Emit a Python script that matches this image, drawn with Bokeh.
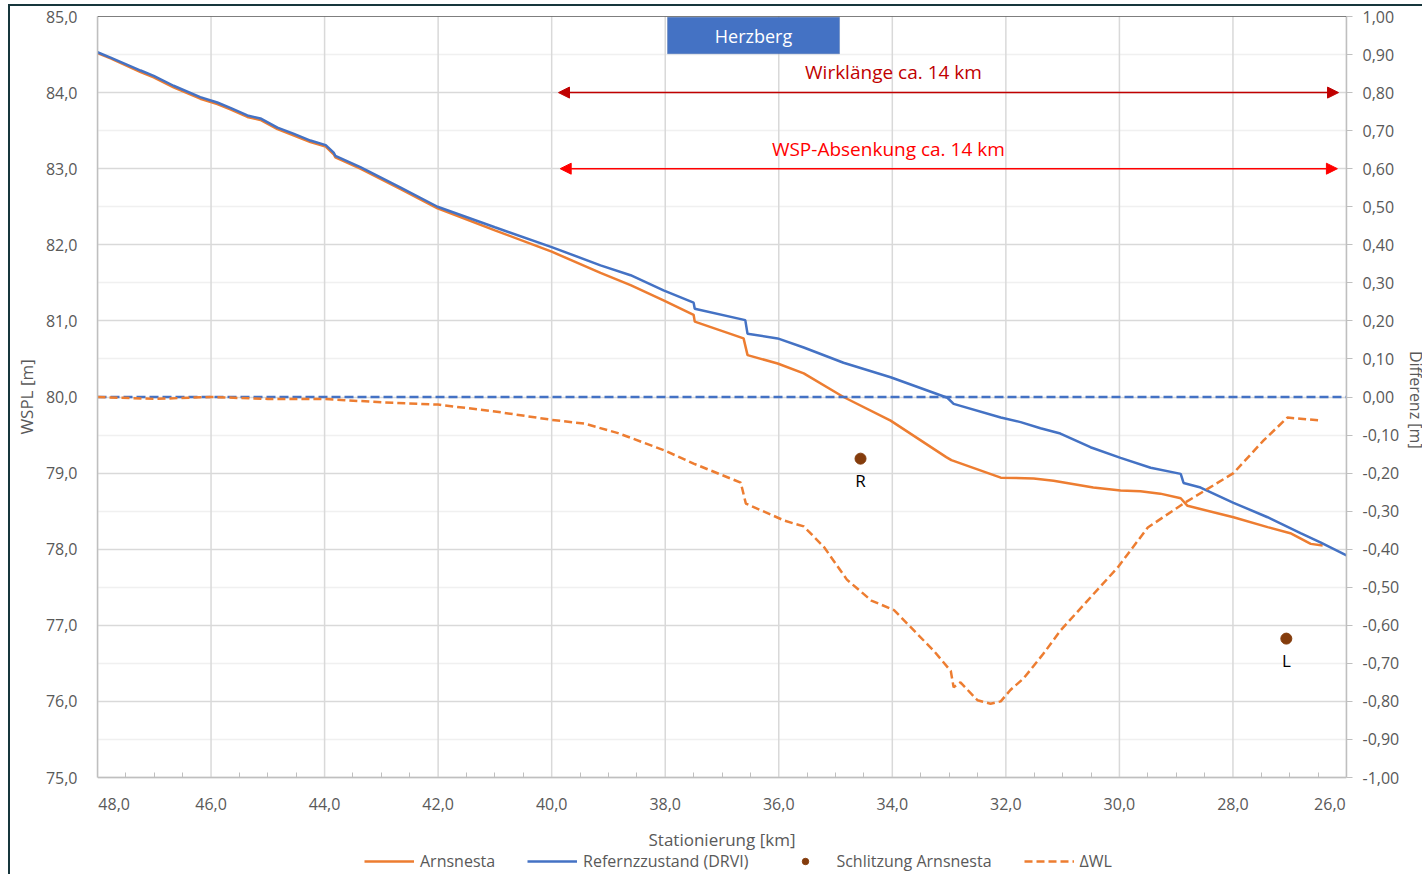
from bokeh.plotting import figure
from bokeh.models import (Range1d, LinearAxis, FixedTicker, Span, Arrow, NormalHead,
                          Label, BoxAnnotation, Legend, LegendItem, ColumnDataSource)
from bokeh.embed import file_html
from bokeh.resources import INLINE
from bokeh.core.properties import value

# ---------------- data ----------------
station_ref = [48.0, 47.77, 47.24, 47.01, 46.66, 46.19, 45.89, 45.66, 45.36, 45.13, 44.83, 44.55,
               44.25, 43.98, 43.84, 43.81, 43.37, 42.66, 42.01, 41.0, 40.0, 39.14, 38.61, 38.03,
               37.50, 37.48, 36.59, 36.55, 36.02, 35.56, 34.86, 34.03, 33.03, 32.92, 32.09,
               31.74, 31.39, 31.04, 30.51, 29.98, 29.45, 28.92, 28.87, 28.57, 27.99, 27.39,
               26.81, 26.46, 26.0]
wspl_ref = [84.53, 84.46, 84.29, 84.22, 84.09, 83.94, 83.87, 83.80, 83.70, 83.66, 83.54, 83.46,
            83.37, 83.31, 83.21, 83.17, 83.02, 82.75, 82.50, 82.23, 81.97, 81.73, 81.60, 81.40,
            81.24, 81.16, 81.01, 80.83, 80.77, 80.65, 80.45, 80.26, 79.99, 79.91, 79.73,
            79.67, 79.59, 79.52, 79.34, 79.20, 79.07, 78.99, 78.87, 78.81, 78.61, 78.42,
            78.21, 78.09, 77.92]

station_arn = [48.0, 47.77, 47.24, 47.01, 46.66, 46.19, 45.89, 45.66, 45.36, 45.13, 44.83, 44.55,
               44.25, 43.98, 43.84, 43.81, 43.37, 42.66, 42.01, 41.0, 40.0, 39.14, 38.61, 38.03,
               37.50, 37.48, 36.62, 36.55, 36.02, 35.56, 34.86, 34.03, 33.05, 32.96, 32.09,
               31.51, 31.16, 30.46, 29.98, 29.63, 29.28, 28.92, 28.80, 27.99, 27.39, 26.99,
               26.63, 26.42]
wspl_arn = [84.52, 84.45, 84.27, 84.20, 84.07, 83.92, 83.85, 83.78, 83.68, 83.64, 83.52, 83.44,
            83.35, 83.29, 83.19, 83.15, 83.00, 82.73, 82.48, 82.19, 81.91, 81.63, 81.47, 81.27,
            81.08, 80.99, 80.77, 80.55, 80.44, 80.31, 80.00, 79.69, 79.21, 79.17, 78.94,
            78.93, 78.90, 78.81, 78.77, 78.76, 78.73, 78.67, 78.57, 78.42, 78.29, 78.21,
            78.07, 78.05]

station_dwl = [48.0, 47.0, 46.0, 45.0, 44.0, 43.0, 42.0, 41.0, 40.0, 39.42, 38.83, 38.02, 37.5,
               36.67, 36.58, 35.9, 35.56, 35.2, 34.8, 34.37, 33.97, 33.27, 32.97, 32.92, 32.8,
               32.5, 32.27, 32.09, 31.92, 31.69, 31.34, 31.04, 30.56, 30.03, 29.50, 28.87,
               27.99, 27.46, 27.04, 26.81, 26.46]
dwl = [0.0, -0.005, 0.0, -0.005, -0.005, -0.014, -0.02, -0.038, -0.06, -0.07, -0.095, -0.14,
       -0.175, -0.225, -0.28, -0.325, -0.34, -0.395, -0.48, -0.535, -0.56, -0.667, -0.72,
       -0.763, -0.75, -0.797, -0.806, -0.80, -0.77, -0.74, -0.675, -0.614, -0.535, -0.448,
       -0.343, -0.28, -0.20, -0.114, -0.054, -0.057, -0.062]

zero_station = [48.0, 26.0]
zero_diff = [0.0, 0.0]

slit_station = [34.56, 27.06]
slit_diff = [-0.162, -0.635]
slit_names = ["R", "L"]

NB = "\u00a0"
x_ticks = [48, 46, 44, 42, 40, 38, 36, 34, 32, 30, 28, 26]
x_tick_labels = [NB * 8 + "48,0", "46,0", "44,0", "42,0", "40,0", "38,0", "36,0", "34,0",
                 "32,0", "30,0", "28,0", "26,0" + NB * 8]
x_minor = [47.5, 47, 46.5, 45.5, 45, 44.5, 43.5, 43, 42.5, 41.5, 41, 40.5, 39.5, 39, 38.5,
           37.5, 37, 36.5, 35.5, 35, 34.5, 33.5, 33, 32.5, 31.5, 31, 30.5, 29.5, 29, 28.5,
           27.5, 27, 26.5]
y_ticks = [75, 76, 77, 78, 79, 80, 81, 82, 83, 84, 85]
y_tick_labels = ["75,0", "76,0", "77,0", "78,0", "79,0", "80,0", "81,0", "82,0", "83,0",
                 "84,0", "85,0"]
y_minor = [75.5, 76.5, 77.5, 78.5, 79.5, 80.5, 81.5, 82.5, 83.5, 84.5]
r_ticks = [-1.0, -0.9, -0.8, -0.7, -0.6, -0.5, -0.4, -0.3, -0.2, -0.1, 0.0,
           0.1, 0.2, 0.3, 0.4, 0.5, 0.6, 0.7, 0.8, 0.9, 1.0]
r_tick_labels = ["-1,00", "-0,90", "-0,80", "-0,70", "-0,60", "-0,50", "-0,40", "-0,30",
                 "-0,20", "-0,10", "0,00", "0,10", "0,20", "0,30", "0,40", "0,50", "0,60",
                 "0,70", "0,80", "0,90", "1,00"]

# axis extents of the chart itself
X_START, X_END = 48, 26
Y_MIN, Y_MAX = 75, 85
D_MIN, D_MAX = -1, 1

# annotations
title_box = {"left": 37.96, "right": 34.93, "top": 84.99, "bottom": 84.51}
title_text = "Herzberg"
arrow1_x = [39.88, 26.14]
arrow1_y = 84.0
arrow1_text = "Wirklänge ca. 14 km"
arrow1_text_pos = (33.98, 84.27)
arrow2_x = [39.85, 26.16]
arrow2_y = 83.0
arrow2_text = "WSP-Absenkung ca. 14 km"
arrow2_text_pos = (34.07, 83.26)

FONT = "Open Sans"
GREY = "#595959"
ORANGE = "#ed7d31"
BLUE = "#4472c4"
BROWN = "#843c0c"
SHEET = "#17363c"

# layout (pixels)
PLOT_W, PLOT_H = 1249, 761     # drawing area of the chart
LEGEND_ZONE = 97               # space below the chart area kept for axis title and legend
PX_PER_M = PLOT_H / (Y_MAX - Y_MIN)
PX_PER_D = PLOT_H / (D_MAX - D_MIN)

# ---------------- figure ----------------
p = figure(x_range=Range1d(X_START, X_END),
           y_range=Range1d(Y_MIN - LEGEND_ZONE / PX_PER_M, Y_MAX),
           output_backend="svg", toolbar_location=None)
p.frame_width = PLOT_W
p.frame_height = PLOT_H + LEGEND_ZONE
p.min_border_left = 87
p.min_border_right = 76
p.min_border_top = 10
p.min_border_bottom = 0
p.outline_line_color = None
p.background_fill_color = "white"
p.border_fill_color = "white"
# sheet frame of the original (left and top edge)
p.styles = {"margin-left": "8px", "margin-top": "4px",
            "border-left": "2px solid " + SHEET, "border-top": "2px solid " + SHEET}

p.extra_y_ranges = {"diff": Range1d(D_MIN - LEGEND_ZONE / PX_PER_D, D_MAX)}

xt = FixedTicker(ticks=x_ticks, minor_ticks=x_minor)
yt = FixedTicker(ticks=y_ticks, minor_ticks=y_minor)
rt = FixedTicker(ticks=r_ticks)

xa = p.xaxis[0]
xa.ticker = xt
xa.fixed_location = Y_MIN
xa.major_label_overrides = {t: l for t, l in zip(x_ticks, x_tick_labels)}
xa.axis_label = "Stationierung [km]"
ya = p.yaxis[0]
ya.ticker = yt
ya.bounds = (Y_MIN, Y_MAX)
ya.major_label_overrides = {t: l for t, l in zip(y_ticks, y_tick_labels)}
ya.axis_label = NB * 22 + "WSPL [m]"

ra = LinearAxis(y_range_name="diff", ticker=rt, axis_label="Differenz [m]" + NB * 22,
                bounds=(D_MIN, D_MAX))
ra.major_label_overrides = {t: l for t, l in zip(r_ticks, r_tick_labels)}
p.add_layout(ra, "right")

for ax in (xa, ya, ra):
    ax.axis_line_color = "#bfbfbf"
    ax.axis_line_width = 1.5
    ax.major_tick_line_color = "#bfbfbf"
    ax.minor_tick_line_color = "#bfbfbf"
    ax.major_label_text_font = FONT
    ax.major_label_text_font_size = "16px"
    ax.major_label_text_color = GREY
    ax.axis_label_text_font = FONT
    ax.axis_label_text_font_size = "17px"
    ax.axis_label_text_color = GREY
    ax.axis_label_text_font_style = "normal"

xa.major_tick_in = 0
xa.major_tick_out = 0
xa.minor_tick_in = 5
xa.minor_tick_out = 0
xa.major_label_standoff = 15
xa.axis_label_standoff = 10

ya.major_tick_in = 0
ya.major_tick_out = 0
ya.minor_tick_line_color = None
ya.major_label_standoff = 16
ya.axis_label_standoff = 5

ra.major_tick_in = 0
ra.major_tick_out = 6
ra.minor_tick_line_color = None
ra.major_label_standoff = 10
ra.axis_label_standoff = 3
ra.axis_label_text_font_size = "16px"

# vertical grid lines only over the chart area
p.xgrid.grid_line_color = None
p.segment(x0=x_ticks, y0=[Y_MIN] * len(x_ticks), x1=x_ticks, y1=[Y_MAX] * len(x_ticks),
          line_color="#d9d9d9", line_width=1.5)
p.ygrid.ticker = yt
p.ygrid.grid_line_color = "#d9d9d9"
p.ygrid.grid_line_width = 1.5
p.ygrid.minor_grid_line_color = "#f0f0f0"
p.ygrid.minor_grid_line_width = 1.5

p.add_layout(Span(location=Y_MAX, dimension="width", line_color="black", line_width=1.2))

# ---------------- series ----------------
r_arn = p.line(station_arn, wspl_arn, line_color=ORANGE, line_width=2.5)
r_ref = p.line(station_ref, wspl_ref, line_color=BLUE, line_width=2.5)
r_zero = p.line(zero_station, zero_diff, y_range_name="diff", line_color=BLUE,
                line_width=2.5, line_dash="9 4")
r_dwl = p.line(station_dwl, dwl, y_range_name="diff", line_color=ORANGE, line_width=2.5,
               line_dash="8 4")
src_slit = ColumnDataSource(dict(x=slit_station, y=slit_diff, name=slit_names))
r_slit = p.scatter("x", "y", source=src_slit, y_range_name="diff", size=11,
                   fill_color=BROWN, line_color=BROWN)
p.text("x", "y", text="name", source=src_slit, y_range_name="diff", y_offset=22,
       text_align="center", text_baseline="middle", text_font=value(FONT),
       text_font_size="17px", text_color="black")

# ---------------- annotations ----------------
p.add_layout(BoxAnnotation(left=title_box["left"], right=title_box["right"],
                           top=title_box["top"], bottom=title_box["bottom"],
                           fill_color=BLUE, fill_alpha=1.0, line_color="#2f5597",
                           line_width=1))
p.add_layout(Label(x=(title_box["left"] + title_box["right"]) / 2,
                   y=(title_box["top"] + title_box["bottom"]) / 2, text=title_text,
                   text_align="center", text_baseline="middle", text_color="white",
                   text_font=FONT, text_font_size="18px"))

for xs, yv, col in ((arrow1_x, arrow1_y, "#c00000"), (arrow2_x, arrow2_y, "#ff0000")):
    p.add_layout(Arrow(x_start=xs[0], y_start=yv, x_end=xs[1], y_end=yv,
                       line_color=col, line_width=1.5,
                       start=NormalHead(size=11, fill_color=col, line_color=col),
                       end=NormalHead(size=11, fill_color=col, line_color=col)))

p.add_layout(Label(x=arrow1_text_pos[0], y=arrow1_text_pos[1], text=arrow1_text,
                   text_align="center", text_baseline="middle", text_color="#c00000",
                   text_font=FONT, text_font_size="19px"))
p.add_layout(Label(x=arrow2_text_pos[0], y=arrow2_text_pos[1], text=arrow2_text,
                   text_align="center", text_baseline="middle", text_color="#ff0000",
                   text_font=FONT, text_font_size="19px"))

# ---------------- legend ----------------
legend = Legend(items=[LegendItem(label="Arnsnesta", renderers=[r_arn]),
                       LegendItem(label="Refernzzustand (DRVI)", renderers=[r_ref]),
                       LegendItem(label="Schlitzung Arnsnesta", renderers=[r_slit]),
                       LegendItem(label="\u0394WL", renderers=[r_dwl])],
                orientation="horizontal", location=(267, 2),
                border_line_color=None, background_fill_alpha=0,
                label_text_font=FONT, label_text_font_size="16px", label_text_color=GREY,
                glyph_width=50, glyph_height=16, label_standoff=6, spacing=32,
                padding=0, margin=0, label_height=16)
p.add_layout(legend, "center")

open("out.html", "w").write(file_html(p, INLINE))
